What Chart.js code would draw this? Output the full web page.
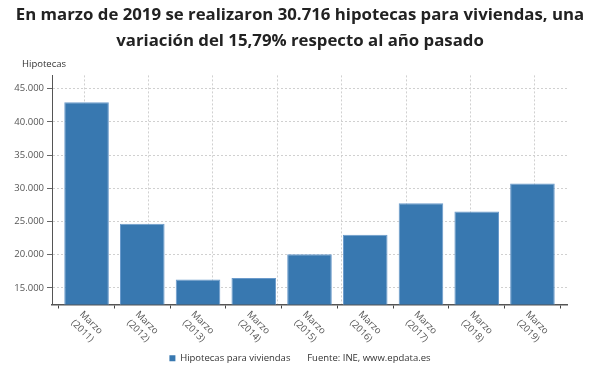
<!DOCTYPE html>
<html>
<head>
<meta charset="utf-8">
<script src="https://cdn.jsdelivr.net/npm/chart.js@4/dist/chart.umd.min.js"></script>
<style>
  html, body { margin: 0; padding: 0; background: #fff; }
  #canvas1 { width: 600px; height: 380px; position: relative; }
</style>
</head>
<body>
<div id="canvas1"><canvas id="Graphique"></canvas></div>
<script>
/*
  Hipotecas para viviendas en marzo, 2011-2019 (fuente INE / epdata)
*/
var meses = ['Marzo', 'Marzo', 'Marzo', 'Marzo', 'Marzo', 'Marzo', 'Marzo', 'Marzo', 'Marzo'];
var anios = ['(2011)', '(2012)', '(2013)', '(2014)', '(2015)', '(2016)', '(2017)', '(2018)', '(2019)'];
var hipotecas = [42950, 24650, 16250, 16500, 20050, 23000, 27750, 26500, 30716];
var yTicks = [15000, 20000, 25000, 30000, 35000, 40000, 45000];
var titulo = ['En marzo de 2019 se realizaron 30.716 hipotecas para viviendas, una',
              'variación del 15,79% respecto al año pasado'];
var serie = 'Hipotecas para viviendas';
var fuente = 'Fuente: INE, www.epdata.es';
var ejeY = 'Hipotecas';

var FONT = "'Open Sans', 'Noto Sans', sans-serif";
var AZUL = '#3878b0';

function miles(v) {
    return String(v).replace(/\B(?=(\d{3})+(?!\d))/g, '.');
}

// etiquetas del eje X giradas hacia abajo (45 grados) + titulo del eje Y
var extras = {
    id: 'extras',
    afterDraw: function (chart) {
        var ctx = chart.ctx;
        var x = chart.scales.x;
        var bottom = chart.chartArea.bottom;
        ctx.save();
        ctx.fillStyle = '#555';
        ctx.font = '9.5px ' + FONT;
        ctx.textAlign = 'left';
        ctx.textBaseline = 'top';
        for (var i = 0; i < hipotecas.length; i++) {
            var px = x.getPixelForValue(i);
            ctx.save();
            ctx.translate(px - 2, bottom + 5);
            ctx.rotate(Math.PI / 4);
            ctx.fillText(meses[i], 0, 0);
            ctx.fillText(anios[i], 0, 12);
            ctx.restore();
        }
        ctx.fillStyle = '#333';
        ctx.textBaseline = 'middle';
        ctx.fillText(ejeY, 22, 64);
        ctx.restore();
    }
};

var data = {
    datasets: [{
        label: serie,
        data: hipotecas.map(function (v, i) { return { x: i, y: v }; }),
        backgroundColor: AZUL,
        borderColor: '#6a9acb',
        borderWidth: 1,
        categoryPercentage: 1,
        barPercentage: 0.8
    }]
};

var option = {
    responsive: true,
    maintainAspectRatio: false,
    animation: false,
    layout: { padding: { left: 0, right: 0, top: 0, bottom: 7 } },
    plugins: {
        title: {
            display: true,
            text: titulo,
            color: '#222',
            font: { family: FONT, size: 16.8, weight: 'bold', lineHeight: 1.5 },
            padding: { top: 3, bottom: 22 }
        },
        legend: {
            position: 'bottom',
            labels: {
                color: '#333',
                font: { family: FONT, size: 9.5 },
                boxWidth: 6,
                boxHeight: 6,
                padding: 6,
                generateLabels: function () {
                    return [
                        { text: serie, fillStyle: AZUL, strokeStyle: AZUL, lineWidth: 0, fontColor: '#333' },
                        { text: fuente, fillStyle: 'rgba(0,0,0,0)', strokeStyle: 'rgba(0,0,0,0)', lineWidth: 0, fontColor: '#333' }
                    ];
                }
            }
        },
        tooltip: { enabled: false }
    },
    scales: {
        x: {
            type: 'linear',
            offset: false,
            min: -0.62,
            max: 8.62,
            afterBuildTicks: function (axis) {
                axis.ticks = hipotecas.map(function (v, i) { return { value: i }; });
            },
            afterFit: function (axis) { axis.height = 43; },
            ticks: { display: false },
            grid: { drawOnChartArea: false, drawTicks: true, tickLength: 4, color: '#444' },
            border: { display: true, color: '#555', width: 1.5 }
        },
        xg: {
            type: 'linear',
            position: 'bottom',
            offset: false,
            min: 0,
            max: 8,
            afterBuildTicks: function (axis) {
                var t = [];
                for (var i = 1; i <= 8; i++) t.push({ value: i });
                axis.ticks = t;
            },
            afterFit: function (axis) { axis.height = 0; },
            ticks: { display: false },
            grid: { drawTicks: false, color: '#d0d0d0', lineWidth: 1 },
            border: { display: false, dash: [2, 2] }
        },
        y: {
            min: 12500,
            max: 47000,
            afterBuildTicks: function (axis) {
                axis.ticks = yTicks.map(function (v) { return { value: v }; });
            },
            afterFit: function (axis) { axis.width = 52; },
            ticks: {
                color: '#555',
                font: { family: FONT, size: 9.5 },
                padding: 3,
                callback: function (v) { return miles(v); }
            },
            grid: { color: '#d0d0d0', tickColor: '#666', tickLength: 5 },
            border: { display: true, color: '#555', width: 1, dash: [2, 2] }
        },
        // eje vacio a la derecha, solo para dejar el margen sin descentrar el titulo
        yr: {
            position: 'right',
            min: 0,
            max: 1,
            afterFit: function (axis) { axis.width = 33; },
            ticks: { display: false },
            grid: { display: false, drawTicks: false },
            border: { display: false }
        }
    }
};

var chartObj = new Chart(document.getElementById('Graphique').getContext('2d'), {
    type: 'bar',
    data: data,
    options: option,
    plugins: [extras]
});
</script>
</body>
</html>
